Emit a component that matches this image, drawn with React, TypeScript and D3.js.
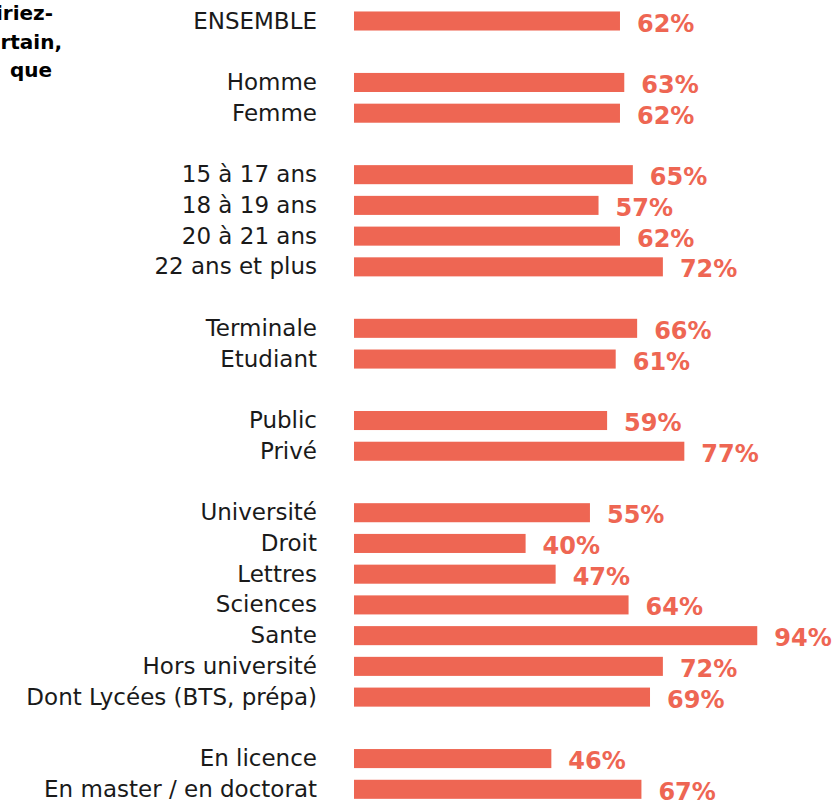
import React from "react";
import * as d3 from "d3";

const groupLabels: string[][] = [
  ["ENSEMBLE"],
  ["Homme", "Femme"],
  ["15 à 17 ans", "18 à 19 ans", "20 à 21 ans", "22 ans et plus"],
  ["Terminale", "Etudiant"],
  ["Public", "Privé"],
  ["Université", "Droit", "Lettres", "Sciences", "Sante", "Hors université", "Dont Lycées (BTS, prépa)"],
  ["En licence", "En master / en doctorat"],
];

const groupValues: number[][] = [
  [62],
  [63, 62],
  [65, 57, 62, 72],
  [66, 61],
  [59, 77],
  [55, 40, 47, 64, 94, 72, 69],
  [46, 67],
];

const titleLines = ["iriez-", "rtain,", "que"];

const W = 832;
const H = 801;
const COLOR = "#EE6653";

export default function App() {
  const rows: { key: string; label?: string; value?: number }[] = [];
  groupLabels.forEach((g, gi) => {
    if (gi > 0) rows.push({ key: `gap-${gi}` });
    g.forEach((lab, i) => rows.push({ key: `r-${gi}-${i}`, label: lab, value: groupValues[gi][i] }));
  });

  const y = d3
    .scalePoint<string>()
    .domain(rows.map((r) => r.key))
    .range([21, 789.3]);
  const step = y.step();
  const barH = step * 0.62;

  const x = d3.scaleLinear().domain([0, 100]).range([354, 354 + 429]);

  const dataRows = rows.filter((r) => r.label !== undefined);

  return (
    <svg
      width={W}
      height={H}
      style={{ position: "absolute", left: 0, top: 0, background: "#fff" }}
    >
      {titleLines.map((t, i) => (
        <text
          key={t}
          x={[53, 62, 52][i]}
          y={20 + i * 28.6}
          textAnchor="end"
          fontFamily="DejaVu Sans, sans-serif"
          fontWeight="bold"
          fontSize={20}
          fill="#000"
        >
          {t}
        </text>
      ))}
      {dataRows.map((r) => {
        const cy = y(r.key)!;
        return (
          <g key={r.key}>
            <text
              x={317}
              y={cy}
              dy="0.33em"
              textAnchor="end"
              fontFamily="DejaVu Sans, sans-serif"
              fontSize={23}
              fill="#1a1a1a"
            >
              {r.label}
            </text>
            <rect
              x={x(0)}
              y={cy - barH / 2}
              width={x(r.value!) - x(0)}
              height={barH}
              fill={COLOR}
            />
            <text
              x={x(r.value!) + 17}
              y={cy + 10.5}
              fontFamily="DejaVu Sans, sans-serif"
              fontWeight="bold"
              fontSize={24}
              fill={COLOR}
            >
              {`${r.value}%`}
            </text>
          </g>
        );
      })}
    </svg>
  );
}
